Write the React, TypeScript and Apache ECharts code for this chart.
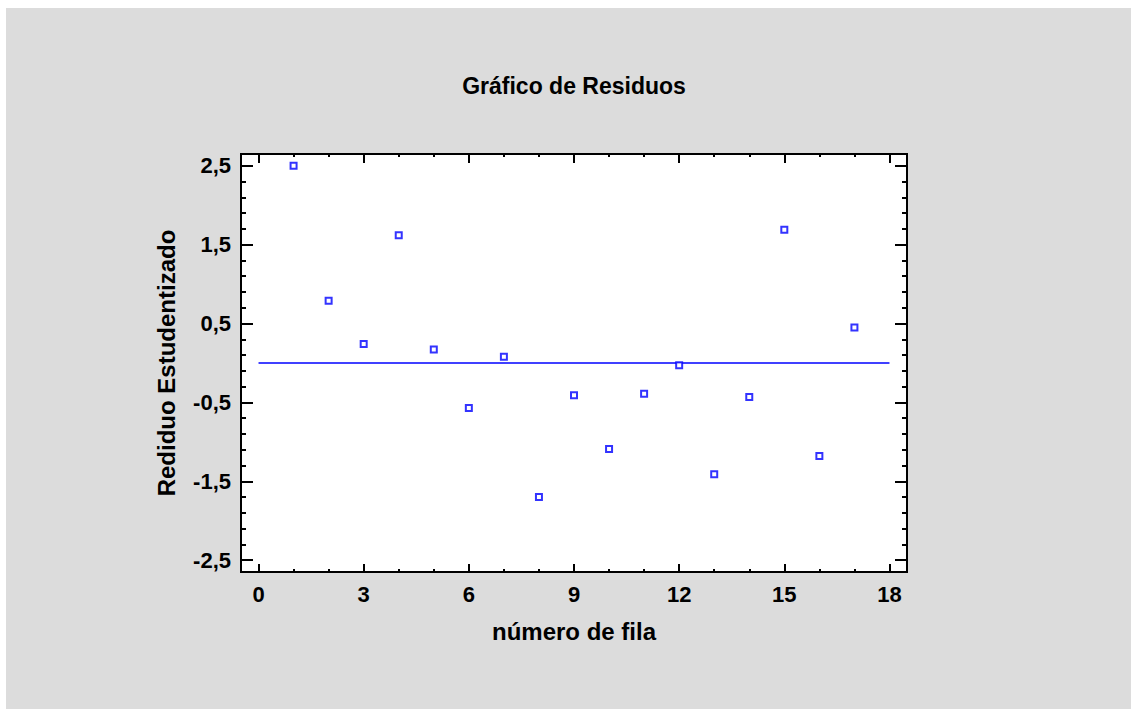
import React, { useEffect, useRef } from "react";
import * as echarts from "echarts";

const ROWS = [1, 2, 3, 4, 5, 6, 7, 8, 9, 10, 11, 12, 13, 14, 15, 16, 17];
const RESIDUALS = [2.5, 0.79, 0.24, 1.62, 0.17, -0.57, 0.08, -1.7, -0.41, -1.09, -0.39, -0.03, -1.41, -0.43, 1.69, -1.18, 0.45];
const X_MAJOR_TICKS = [0, 3, 6, 9, 12, 15, 18];
const X_MINOR_TICKS = [1, 2, 4, 5, 7, 8, 10, 11, 13, 14, 16, 17];
const Y_MAJOR_TICKS = [-2.5, -1.5, -0.5, 0.5, 1.5, 2.5];
const Y_MINOR_TICKS = [-2.3, -2.1, -1.9, -1.7, -1.3, -1.1, -0.9, -0.7, -0.3, -0.1, 0.1, 0.3, 0.7, 0.9, 1.1, 1.3, 1.7, 1.9, 2.1, 2.3];
const ZERO_LINE_X = [0, 18];
const ZERO_LINE_Y = [0, 0];

const TITLE = "Gráfico de Residuos";
const X_NAME = "número de fila";
const Y_NAME = "Rediduo Estudentizado";

const FONT = "'Liberation Sans', Arial, sans-serif";

export default function App() {
  const ref = useRef<HTMLDivElement>(null);
  useEffect(() => {
    if (!ref.current) return;
    const chart = echarts.init(ref.current, null, { renderer: "svg" });
    const X_MIN = -0.5, X_MAX = 18.5, Y_MIN = -2.65, Y_MAX = 2.65;
    const tickStyle = { color: "#000", width: 2 };
    const mkX = (pos: string, ticks: number[], len: number, labels: boolean, name?: string) => ({
      type: "value",
      position: pos,
      min: X_MIN,
      max: X_MAX,
      gridIndex: 0,
      name: name,
      nameLocation: "middle",
      nameGap: 47,
      nameTextStyle: { fontFamily: FONT, fontWeight: "bold", fontSize: 24, color: "#000" },
      axisLine: { show: false, onZero: false },
      splitLine: { show: false },
      axisTick: { show: true, inside: true, length: len, customValues: ticks, lineStyle: tickStyle },
      axisLabel: labels
        ? { show: true, customValues: ticks, margin: 11, fontFamily: FONT, fontWeight: "bold", fontSize: 22, color: "#000" }
        : { show: false },
    });
    const mkY = (pos: string, ticks: number[], len: number, labels: boolean, name?: string) => ({
      type: "value",
      position: pos,
      min: Y_MIN,
      max: Y_MAX,
      gridIndex: 0,
      name: name,
      nameLocation: "middle",
      nameGap: 63,
      nameTextStyle: { fontFamily: FONT, fontWeight: "bold", fontSize: 24, color: "#000" },
      axisLine: { show: false, onZero: false },
      splitLine: { show: false },
      axisTick: { show: true, inside: true, length: len, customValues: ticks, lineStyle: tickStyle },
      axisLabel: labels
        ? {
            show: true,
            customValues: ticks,
            margin: 10,
            fontFamily: FONT,
            fontWeight: "bold",
            fontSize: 22,
            color: "#000",
            formatter: (v: number) => v.toFixed(1).replace(".", ","),
          }
        : { show: false },
    });
    chart.setOption({
      animation: false,
      backgroundColor: "#dcdcdc",
      grid: {
        left: 235,
        top: 146,
        width: 666,
        height: 418,
        show: true,
        backgroundColor: "#ffffff",
        borderColor: "#000000",
        borderWidth: 2,
      },
      graphic: [
        {
          type: "text",
          x: 568,
          y: 78,
          style: {
            text: TITLE,
            textAlign: "center",
            textVerticalAlign: "middle",
            fontFamily: FONT,
            fontWeight: "bold",
            fontSize: 23,
            fill: "#000",
          },
        },
      ],
      xAxis: [
        mkX("bottom", X_MAJOR_TICKS, 8, true, X_NAME),
        mkX("bottom", X_MINOR_TICKS, 3, false),
        mkX("top", X_MAJOR_TICKS, 9, false),
        mkX("top", X_MINOR_TICKS, 3, false),
      ],
      yAxis: [
        mkY("left", Y_MAJOR_TICKS, 12, true, Y_NAME),
        mkY("left", Y_MINOR_TICKS, 5, false),
        mkY("right", Y_MAJOR_TICKS, 12, false),
        mkY("right", Y_MINOR_TICKS, 5, false),
      ],
      series: [
        {
          type: "line",
          xAxisIndex: 0,
          yAxisIndex: 0,
          data: ZERO_LINE_X.map((x, i) => [x, ZERO_LINE_Y[i]]),
          symbol: "none",
          silent: true,
          lineStyle: { color: "#0000ff", width: 1.5 },
          z: 2,
        },
        {
          type: "scatter",
          xAxisIndex: 0,
          yAxisIndex: 0,
          data: ROWS.map((r, i) => [r, RESIDUALS[i]]),
          symbol: "rect",
          symbolSize: 6,
          itemStyle: { color: "#ffffff", borderColor: "#0000ff", borderWidth: 2 },
          z: 3,
        },
      ],
    });
    return () => chart.dispose();
  }, []);
  return (
    <div
      ref={ref}
      style={{ position: "fixed", left: 6, top: 8, width: 1125, height: 701 }}
    />
  );
}
